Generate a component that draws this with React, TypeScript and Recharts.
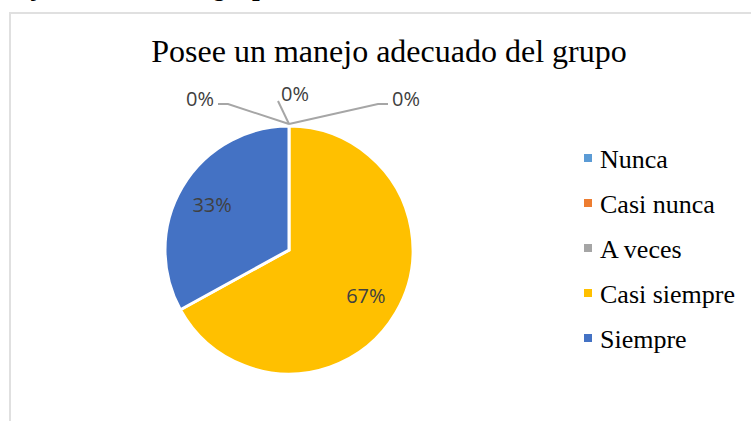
import React from 'react';
import { PieChart, Pie, Cell, Legend } from 'recharts';

const categories = ['Nunca', 'Casi nunca', 'A veces', 'Casi siempre', 'Siempre'];
const values = [0, 0, 0, 67, 33];
const colors = ['#5B9BD5', '#ED7D31', '#A5A5A5', '#FFC000', '#4472C4'];
const title = 'Posee un manejo adecuado del grupo';
const caption = 'Posee un manejo adecuado del grupo';

const data = categories.map((name, i) => ({ name, value: values[i] }));

const RAD = Math.PI / 180;
const LABEL_FONT = "'Open Sans', 'Noto Sans', sans-serif";
const SERIF = "'Times New Roman', 'Liberation Serif', serif";

// leader-line offsets for the zero-value slices, relative to the slice's outer point
const zeroLabelLayout = [
  { pts: [[-61, -20], [-71, -20]], text: [-75, -26], anchor: 'end' },
  { pts: [[-11, -23]], text: [-8, -31], anchor: 'start' },
  { pts: [[89, -20], [99, -20]], text: [103, -26], anchor: 'start' },
];

const renderLabel = (props: any) => {
  const { cx, cy, midAngle, outerRadius, percent, index } = props;
  const txt = `${Math.round(percent * 100)}%`;
  if (percent === 0 || !percent) {
    const lay = zeroLabelLayout[index] || zeroLabelLayout[1];
    const ox = cx + outerRadius * Math.cos(-midAngle * RAD);
    const oy = cy + outerRadius * Math.sin(-midAngle * RAD) - 2;
    const pts = [[ox, oy], ...lay.pts.map(([dx, dy]) => [ox + dx, oy + dy])];
    const d = pts.map((p, i) => `${i === 0 ? 'M' : 'L'}${p[0]},${p[1]}`).join(' ');
    return (
      <g key={`lbl-${index}`}>
        <path d={d} stroke="#A6A6A6" strokeWidth={2} fill="none" />
        <text
          x={ox + lay.text[0]}
          y={oy + lay.text[1]}
          textAnchor={lay.anchor as any}
          dominantBaseline="central"
          fill="#404040"
          fontSize={20}
          fontFamily={LABEL_FONT}
        >
          {txt}
        </text>
      </g>
    );
  }
  const r = outerRadius * 0.72;
  const x = cx + r * Math.cos(-midAngle * RAD);
  const y = cy + r * Math.sin(-midAngle * RAD);
  return (
    <text
      key={`lbl-${index}`}
      x={x}
      y={y}
      textAnchor="middle"
      dominantBaseline="central"
      fill="#404040"
      fontSize={20}
      fontFamily={LABEL_FONT}
    >
      {txt}
    </text>
  );
};

const renderLegend = () => {
  return (
    <div style={{ fontFamily: SERIF, fontSize: 26, color: '#000' }}>
      {categories.map((name, i) => (
        <div key={name} style={{ position: 'relative', height: 45, lineHeight: '45px', whiteSpace: 'nowrap' }}>
          <span
            style={{
              position: 'absolute',
              left: 4,
              top: 17,
              width: 8,
              height: 8,
              background: colors[i],
            }}
          />
          <span style={{ position: 'absolute', left: 20, top: 0 }}>{name}</span>
        </div>
      ))}
    </div>
  );
};

export default function App() {
  return (
    <div style={{ position: 'absolute', left: 0, top: 0, width: 751, height: 421, overflow: 'hidden', background: '#fff' }}>
      <div
        style={{
          position: 'absolute',
          left: -135,
          top: -27,
          fontFamily: SERIF,
          fontSize: 27,
          lineHeight: '27px',
          fontWeight: 'bold',
          fontStyle: 'italic',
          whiteSpace: 'nowrap',
          color: '#000',
        }}
      >
        {caption}
      </div>
      <div
        style={{
          position: 'absolute',
          left: 9,
          top: 12,
          width: 800,
          height: 500,
          borderLeft: '2px solid #e0e0e0',
          borderTop: '2px solid #e0e0e0',
          boxSizing: 'border-box',
        }}
      />
      <div
        style={{
          position: 'absolute',
          left: 0,
          top: 35,
          width: 778,
          textAlign: 'center',
          fontFamily: SERIF,
          fontSize: 32,
          lineHeight: '32px',
          color: '#000',
          whiteSpace: 'nowrap',
        }}
      >
        {title}
      </div>
      <div style={{ position: 'absolute', left: 0, top: 0 }}>
        <PieChart width={751} height={421} margin={{ top: 0, right: 0, bottom: 0, left: 0 }}>
          <Pie
            data={data}
            dataKey="value"
            nameKey="name"
            cx={289}
            cy={250}
            outerRadius={124}
            startAngle={90}
            endAngle={-270}
            stroke="#fff"
            strokeWidth={3}
            label={renderLabel}
            labelLine={false}
            isAnimationActive={false}
          >
            {data.map((d, i) => (
              <Cell key={d.name} fill={colors[i]} />
            ))}
          </Pie>
          <Legend
            layout="vertical"
            align="right"
            verticalAlign="top"
            content={renderLegend}
            wrapperStyle={{ left: 580, top: 137, width: 170 }}
          />
        </PieChart>
      </div>
    </div>
  );
}
